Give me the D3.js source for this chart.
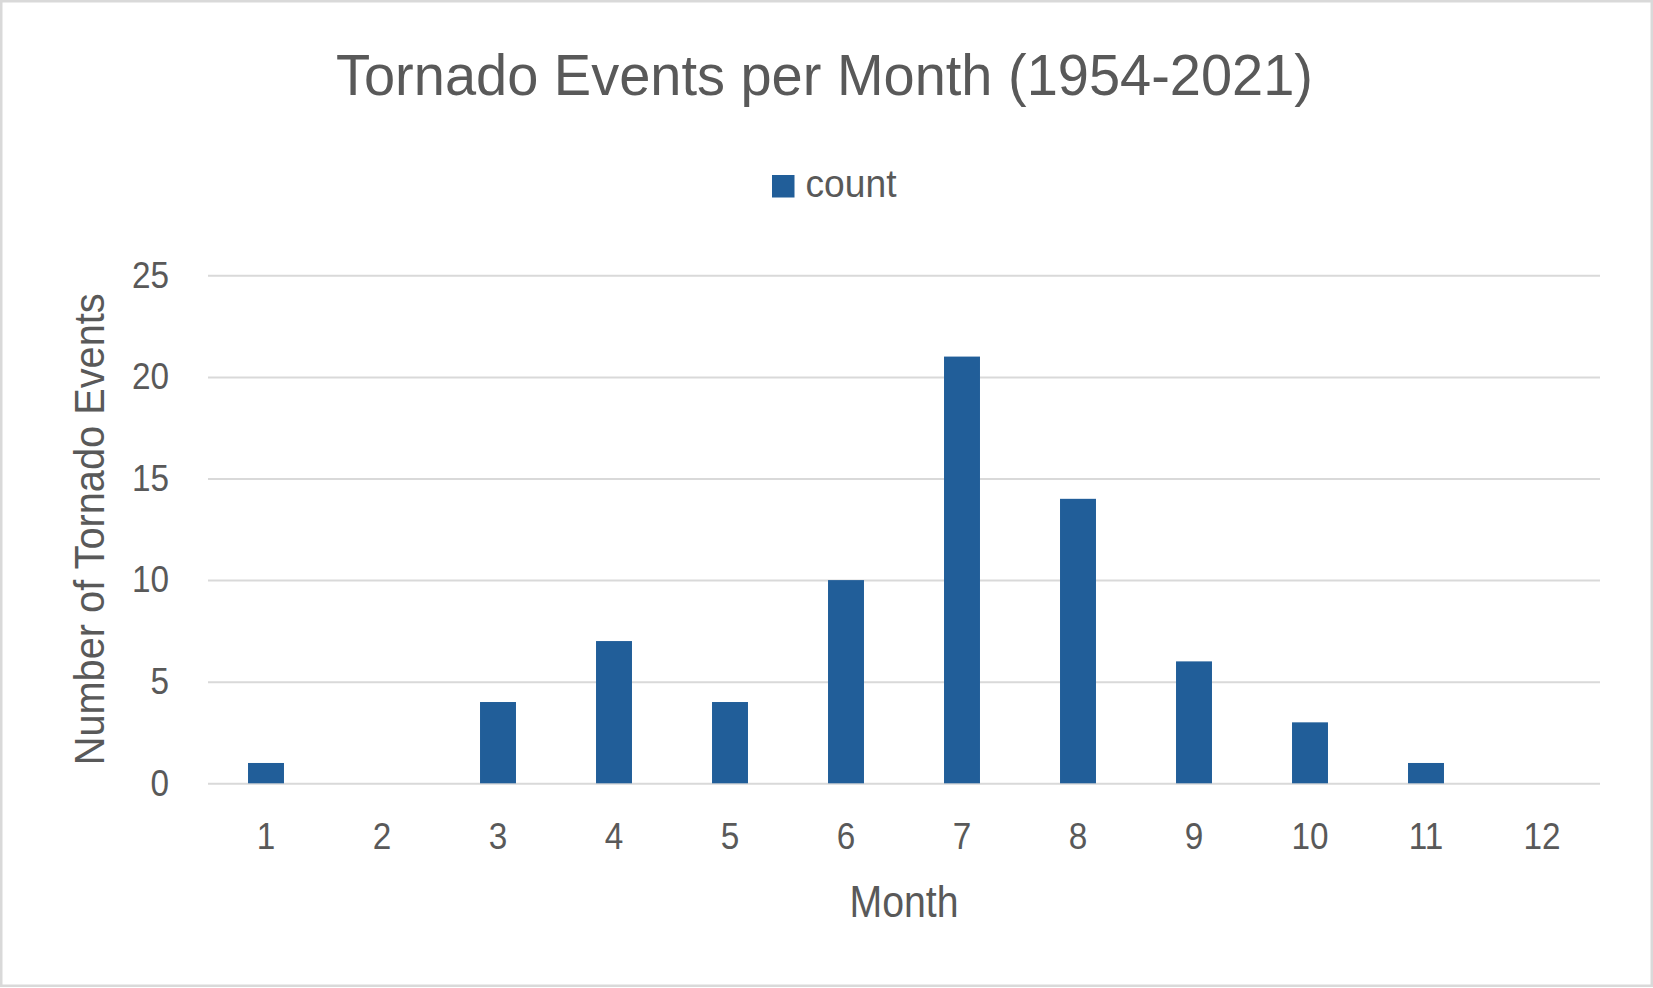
<!DOCTYPE html>
<html>
<head>
<meta charset="utf-8">
<script src="https://cdn.jsdelivr.net/npm/d3@7"></script>
<style>
  html, body { margin: 0; padding: 0; background: #fff; }
  svg { display: block; }
  text { font-family: "Liberation Sans", Arial, sans-serif; fill: #595959; }
</style>
</head>
<body>
<svg id="chart" width="1653" height="988"></svg>
<script>
// ---- data ----
const months = ["1","2","3","4","5","6","7","8","9","10","11","12"];
const counts = [1, 0, 4, 7, 4, 10, 21, 14, 6, 3, 1, 0];
const yTicks = [0, 5, 10, 15, 20, 25];
const titleText = "Tornado Events per Month (1954-2021)";
const seriesName = "count";
const xTitle = "Month";
const yTitle = "Number of Tornado Events";

// ---- layout ----
const W = 1653, H = 988;
const plot = { left: 208, right: 1600, top: 275.3, bottom: 783.3 };
const barColor = "#215E99";
const gridColor = "#D9D9D9";
const condense = 0.9;

const svg = d3.select("#chart");

svg.append("rect")
  .attr("x", 1.25).attr("y", 1.25)
  .attr("width", W - 2.5).attr("height", H - 3.5)
  .attr("fill", "#fff").attr("stroke", gridColor).attr("stroke-width", 2.5);

const x = d3.scaleBand()
  .domain(months)
  .range([plot.left, plot.right])
  .paddingInner(0.69)
  .paddingOuter(0.345);

const y = d3.scaleLinear()
  .domain([0, 25])
  .range([plot.bottom, plot.top]);

function squeeze(sel, f) {
  sel.each(function () {
    const w = this.getComputedTextLength();
    this.setAttribute("textLength", w * f);
    this.setAttribute("lengthAdjust", "spacingAndGlyphs");
  });
}

// gridlines
const grid = svg.append("g")
  .attr("transform", `translate(${plot.left},0)`)
  .call(d3.axisLeft(y).tickValues(yTicks).tickSize(-(plot.right - plot.left)).tickFormat(""));
grid.select(".domain").remove();
grid.selectAll("line").attr("stroke", gridColor).attr("stroke-width", 2);

// bars
svg.append("g").selectAll("rect")
  .data(counts)
  .join("rect")
  .attr("x", (d, i) => x(months[i]))
  .attr("width", x.bandwidth())
  .attr("y", d => y(d))
  .attr("height", d => y(0) - y(d))
  .attr("fill", barColor);

// y axis labels
const yAx = svg.append("g")
  .attr("transform", `translate(${plot.left},0)`)
  .call(d3.axisLeft(y).tickValues(yTicks).tickSize(0).tickPadding(39));
yAx.select(".domain").remove();
yAx.selectAll("text")
  .attr("font-size", 37)
  .attr("fill", "#595959")
  .style("font-family", '"Liberation Sans", Arial, sans-serif');
squeeze(yAx.selectAll("text"), condense);

// x axis labels
const xAx = svg.append("g")
  .attr("transform", `translate(0,${plot.bottom})`)
  .call(d3.axisBottom(x).tickSize(0).tickPadding(0));
xAx.select(".domain").remove();
xAx.selectAll("text")
  .attr("dy", null)
  .attr("y", 66)
  .attr("font-size", 37)
  .attr("fill", "#595959")
  .style("font-family", '"Liberation Sans", Arial, sans-serif');
squeeze(xAx.selectAll("text"), condense);

// title
svg.append("text")
  .attr("x", 824.5).attr("y", 95)
  .attr("text-anchor", "middle")
  .attr("font-size", 58)
  .attr("textLength", 977)
  .attr("lengthAdjust", "spacingAndGlyphs")
  .text(titleText);

// legend
svg.append("rect")
  .attr("x", 772).attr("y", 175)
  .attr("width", 22.5).attr("height", 22.5)
  .attr("fill", barColor);
svg.append("text")
  .attr("x", 805.5).attr("y", 197.3)
  .attr("font-size", 38)
  .attr("textLength", 91)
  .attr("lengthAdjust", "spacingAndGlyphs")
  .text(seriesName);

// x axis title
svg.append("text")
  .attr("x", (plot.left + plot.right) / 2).attr("y", 916.7)
  .attr("text-anchor", "middle")
  .attr("font-size", 44)
  .attr("textLength", 109)
  .attr("lengthAdjust", "spacingAndGlyphs")
  .text(xTitle);

// y axis title
svg.append("text")
  .attr("transform", `translate(104,${(plot.top + plot.bottom) / 2}) rotate(-90)`)
  .attr("text-anchor", "middle")
  .attr("font-size", 43)
  .attr("textLength", 472)
  .attr("lengthAdjust", "spacingAndGlyphs")
  .text(yTitle);
</script>
</body>
</html>
